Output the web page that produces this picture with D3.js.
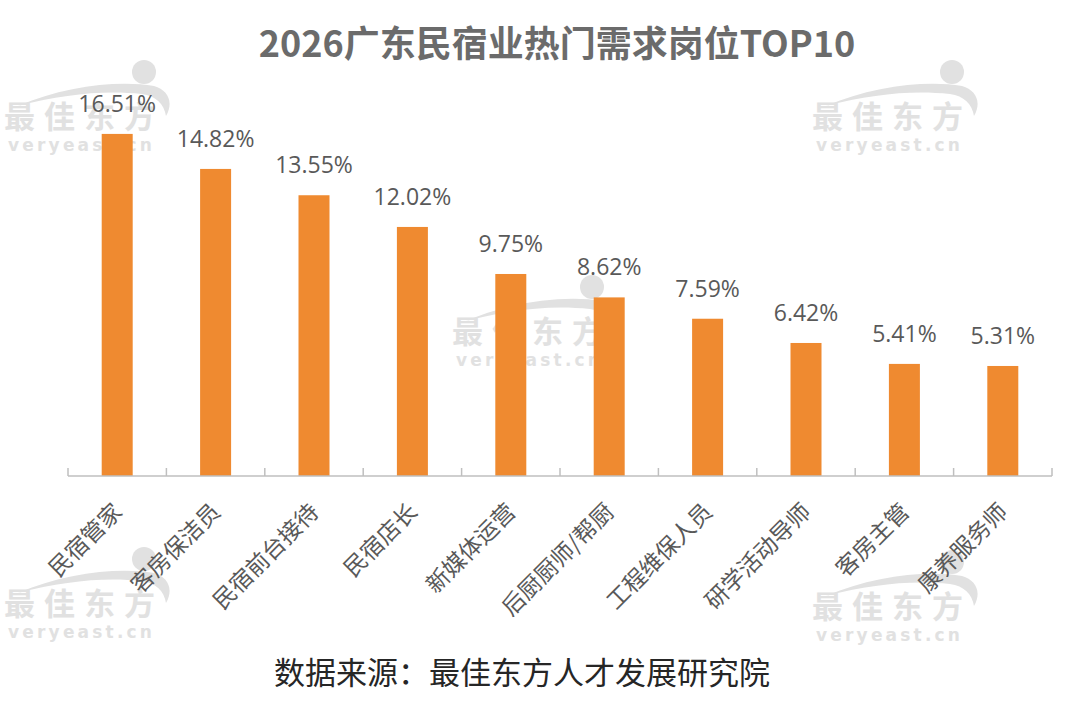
<!DOCTYPE html>
<html>
<head>
<meta charset="utf-8">
<script src="https://cdn.jsdelivr.net/npm/d3@7"></script>
<style>
  body { margin: 0; background: #fff; }
  svg { display: block; font-family: "Noto Sans CJK SC", "Noto Sans", sans-serif; }
</style>
</head>
<body>
<svg id="chart" width="1080" height="705"></svg>
<script>
const TITLE = "2026广东民宿业热门需求岗位TOP10";
const SOURCE = "数据来源：最佳东方人才发展研究院";
const jobs = ["民宿管家", "客房保洁员", "民宿前台接待", "民宿店长", "新媒体运营", "后厨厨师/帮厨", "工程维保人员", "研学活动导师", "客房主管", "康养服务师"];
const shares = [16.51, 14.82, 13.55, 12.02, 9.75, 8.62, 7.59, 6.42, 5.41, 5.31];
// watermark anchor points (left edge, text baseline)
const marks = [[4, 128], [812, 128], [452, 343], [4, 615], [812, 618]];

const svg = d3.select("#chart");
const baseY = 476;
const BAR = "#ef8a30";

// --- watermarks ---
function watermark(g, x, y) {
    const c = "#dcdcdc";
    const m = g.append("g").attr("transform", `translate(${x},${y})`).attr("opacity", 0.85);
    // swoosh
    m.append("path")
        .attr("d", "M14,-22 C60,-42 115,-48 150,-42 C164,-38 170,-26 162,-12 C160,-24 152,-32 138,-34 C100,-38 60,-34 14,-22 Z")
        .attr("fill", c);
    m.append("circle").attr("cx", 140).attr("cy", -56).attr("r", 12).attr("fill", c);
    m.append("text").attr("x", 0).attr("y", 0)
        .attr("font-size", 31).attr("font-weight", 700).attr("letter-spacing", 9)
        .attr("fill", c).text("最佳东方");
    m.append("text").attr("x", 4).attr("y", 23)
        .attr("font-family", "'DejaVu Sans', sans-serif")
        .attr("font-size", 17).attr("font-weight", 700).attr("letter-spacing", 3.2)
        .attr("fill", c).text("veryeast.cn");
}
const wmG = svg.append("g");
marks.forEach(p => watermark(wmG, p[0], p[1]));

// --- scales ---
const x = d3.scaleBand().domain(jobs).range([68, 1052]).paddingInner(0).paddingOuter(0);
const y = d3.scaleLinear().domain([0, 18]).range([baseY, baseY - 18 * 20.72]);
const barW = 31;

// title
svg.append("text").attr("x", 557).attr("y", 57)
    .attr("text-anchor", "middle").attr("font-size", 36).attr("font-weight", 700)
    .attr("fill", "#6b6b6b").text(TITLE);

// bars
svg.append("g").selectAll("rect").data(jobs).join("rect")
    .attr("x", d => x(d) + (x.bandwidth() - barW) / 2)
    .attr("width", barW)
    .attr("y", (d, i) => y(shares[i]))
    .attr("height", (d, i) => baseY - y(shares[i]))
    .attr("fill", BAR);

// value labels
svg.append("g").selectAll("text").data(jobs).join("text")
    .attr("x", d => x(d) + x.bandwidth() / 2)
    .attr("y", (d, i) => y(shares[i]) - 22)
    .attr("text-anchor", "middle")
    .attr("font-family", "'Open Sans', 'Noto Sans', sans-serif")
    .attr("font-size", 23).attr("fill", "#595959")
    .text((d, i) => shares[i].toFixed(2) + "%");

// axis
const axisG = svg.append("g").attr("transform", `translate(0,${baseY})`);
axisG.append("line").attr("x1", 68).attr("x2", 1052).attr("stroke", "#bfbfbf").attr("stroke-width", 1.5);
const ticks = jobs.map(d => x(d)).concat([x.range()[1]]);
axisG.selectAll("line.tick").data(ticks).join("line").attr("class", "tick")
    .attr("x1", d => d).attr("x2", d => d).attr("y1", 0).attr("y2", -8)
    .attr("stroke", "#bfbfbf").attr("stroke-width", 1.5);

// category labels
svg.append("g").selectAll("text").data(jobs).join("text")
    .attr("transform", d => `translate(${x(d) + x.bandwidth() / 2 - 9},${baseY + 22}) rotate(-45)`)
    .attr("text-anchor", "end")
    .attr("dominant-baseline", "hanging")
    .attr("font-size", 23).attr("fill", "#595959")
    .text(d => d);

// source
svg.append("text").attr("x", 522).attr("y", 684)
    .attr("text-anchor", "middle").attr("font-size", 31)
    .attr("fill", "#262626").text(SOURCE);
</script>
</body>
</html>
